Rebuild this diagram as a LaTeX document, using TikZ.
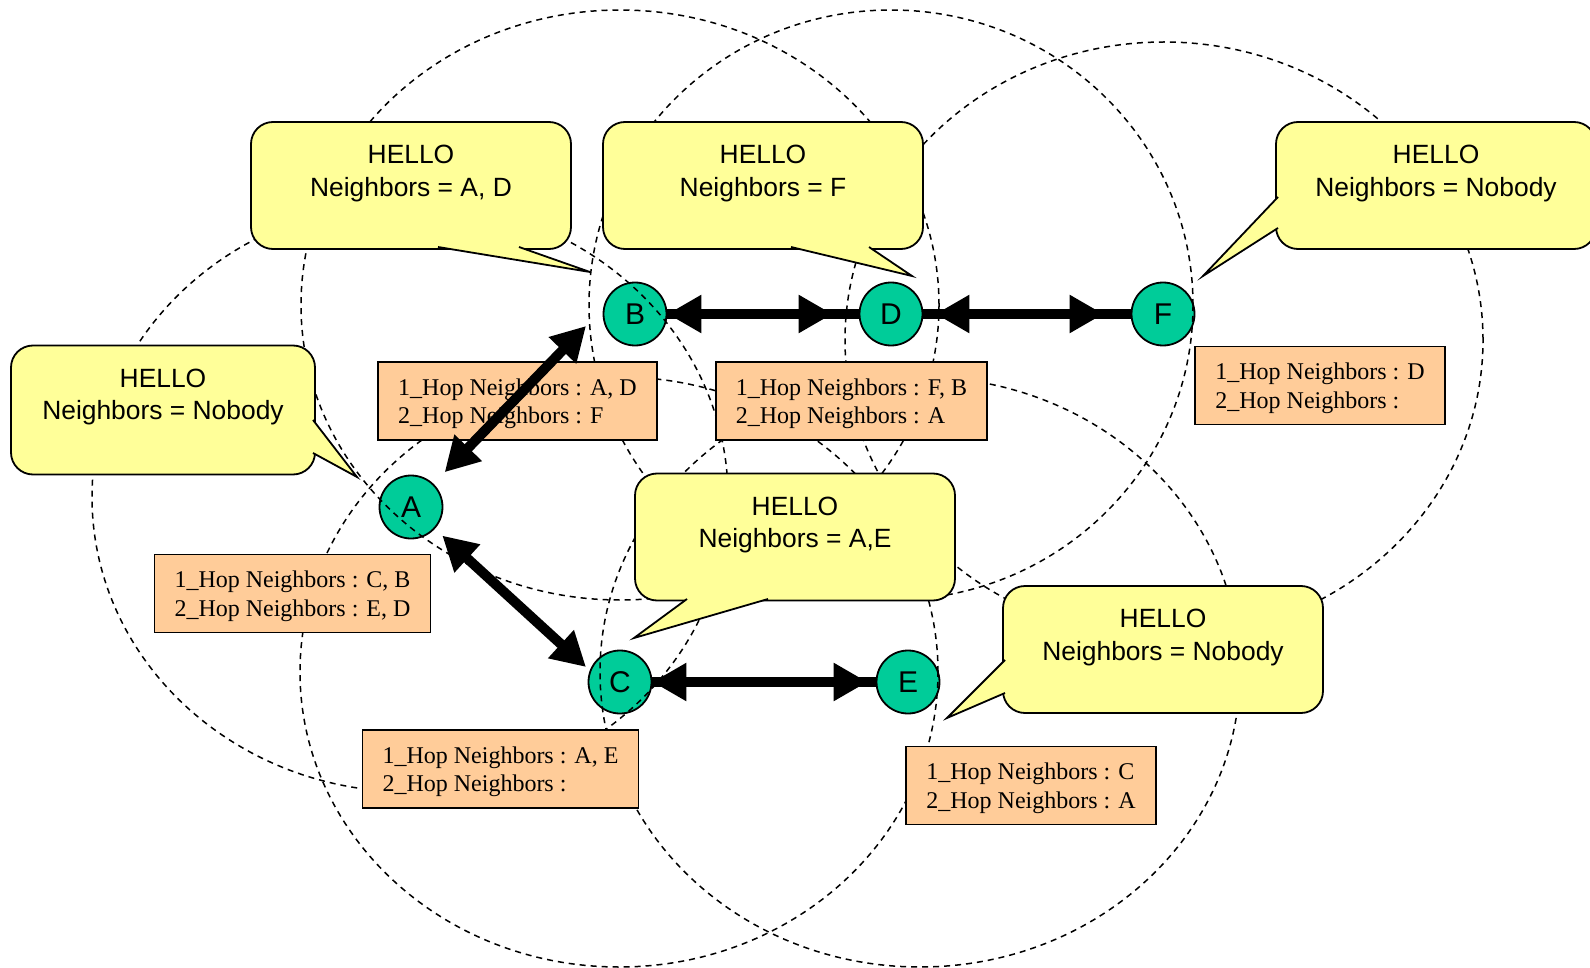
\documentclass[tikz,border=0pt]{standalone}
\usepackage{fontspec}
\setmainfont{Liberation Serif}
\setsansfont{Liberation Sans}
\usetikzlibrary{positioning,arrows.meta}
\definecolor{nodegreen}{HTML}{00CC99}
\definecolor{hellofill}{HTML}{FFFF99}
\definecolor{hopfill}{HTML}{FFCC99}

\begin{document}
\begin{tikzpicture}[x=1pt,y=-1pt,
    station/.style={circle,draw=black,line width=1.8pt,fill=nodegreen,minimum size=63pt,inner sep=0pt,font=\fontsize{30}{30}\sffamily},
    radiorange/.style={line width=1.5pt,dash pattern=on 6pt off 5pt},
    hello/.style={draw=black,line width=1.8pt,fill=hellofill,rounded corners=22pt,minimum width=320pt,minimum height=127pt,inner sep=0pt},
    hellotext/.style={align=center,inner sep=0pt,font=\fontsize{26.4}{32.5}\sffamily},
    hellowedge/.style={draw=black,line width=1.8pt,fill=hellofill},
    hoptable/.style={draw=black,line width=1.8pt,fill=hopfill,align=left,inner xsep=20pt,minimum height=78pt,text depth=-3pt,font=\fontsize{24}{28.4}\selectfont},
    link/.style={line width=10pt},
    duplex/.style={line width=10pt,arrows={Triangle[length=34pt,width=36pt]-Triangle[length=34pt,width=36pt]}}]
  \useasboundingbox (0,0) rectangle (1590,968);

  \node[station] (A) at (411,507) {A};
  \node[station] (B) at (635,314) {B};
  \node[station] (D) at (891,314) {D};
  \node[station] (F) at (1163,314) {F};
  \node[station] (C) at (620,682) {C};
  \node[station] (E) at (908,682) {E};

  \draw[radiorange] (620,305) ellipse [x radius=319pt, y radius=295pt];
  \draw[radiorange] (891,305) ellipse [x radius=302pt, y radius=295pt];
  \draw[radiorange] (1164,340) ellipse [x radius=319pt, y radius=298pt];
  \draw[radiorange] (410,497) ellipse [x radius=318pt, y radius=295pt];
  \draw[radiorange] (619,672) ellipse [x radius=319pt, y radius=295pt];
  \draw[radiorange] (920,672) ellipse [x radius=320pt, y radius=295pt];

  \node[hello,minimum width=304pt,minimum height=129pt] (hA) at (163,410) {};
  \node[hello] (hB) at (411,185.5) {};
  \node[hello] (hD) at (763,185.5) {};
  \node[hello] (hF) at (1436,185.5) {};
  \node[hello] (hC) at (795,537) {};
  \node[hello] (hE) at (1163,649.5) {};
  \filldraw[hellowedge] (313,420) -- (357,477) -- (313,453);
  \filldraw[hellowedge] (438,247) -- (590,272) -- (519,247);
  \filldraw[hellowedge] (791,247) -- (912,276) -- (869,247);
  \filldraw[hellowedge] (1278,197) -- (1203,276) -- (1278,228);
  \filldraw[hellowedge] (687,599) -- (634,638) -- (768,599);
  \filldraw[hellowedge] (1005,660) -- (947,718) -- (1005,693);
  \node[hellotext] (tA) at ([yshift=13pt]hA.center) {HELLO\\Neighbors = Nobody};
  \node[hellotext] (tB) at ([yshift=12pt]hB.center) {HELLO\\Neighbors = A, D};
  \node[hellotext] (tD) at ([yshift=12pt]hD.center) {HELLO\\Neighbors = F};
  \node[hellotext] (tF) at ([yshift=12pt]hF.center) {HELLO\\Neighbors = Nobody};
  \node[hellotext] (tC) at ([yshift=12pt]hC.center) {HELLO\\Neighbors = A,E};
  \node[hellotext] (tE) at ([yshift=12pt]hE.center) {HELLO\\Neighbors = Nobody};

  \node[hoptable] (nB) at (517.5,401) {1\_Hop Neighbors : A, D\\2\_Hop Neighbors : F};
  \node[hoptable] (nD) at (851.5,401) {1\_Hop Neighbors : F, B\\2\_Hop Neighbors : A};
  \node[hoptable] (nF) at (1320,385.5) {1\_Hop Neighbors : D\\2\_Hop Neighbors :};
  \node[hoptable] (nA) at (292.5,593.5) {1\_Hop Neighbors : C, B\\2\_Hop Neighbors : E, D};
  \node[hoptable] (nC) at (500.5,769) {1\_Hop Neighbors : A, E\\2\_Hop Neighbors :};
  \node[hoptable] (nE) at (1031,785.5) {1\_Hop Neighbors : C\\2\_Hop Neighbors : A};

  \coordinate (btip) at (586,326);
  \coordinate (ctip) at (586,667);
  \draw[link] (B) -- (D);
  \draw[duplex,shorten >=26pt] (B) -- (D);
  \draw[link] (D) -- (F);
  \draw[duplex,shorten <=12pt,shorten >=27pt] (D) -- (F);
  \draw[link] (C) -- (E);
  \draw[duplex,shorten >=8pt] (C) -- (E);
  \draw[duplex,shorten <=16pt] (A) -- (btip);
  \draw[duplex,shorten <=10pt] (A) -- (ctip);
\end{tikzpicture}
\end{document}
